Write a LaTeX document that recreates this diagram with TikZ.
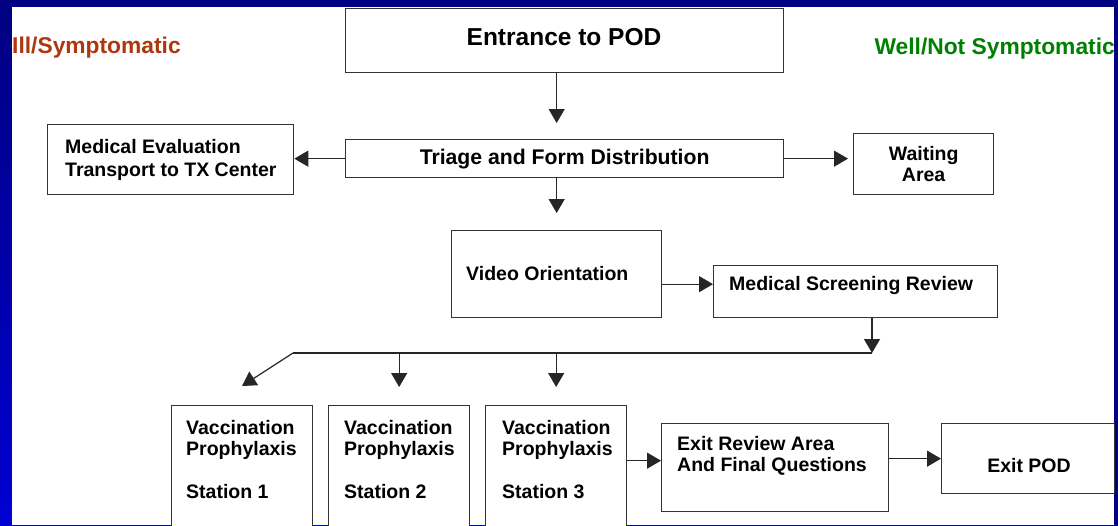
\documentclass[tikz,border=0pt]{standalone}
\usepackage{fontspec}
\setmainfont{Liberation Sans}
\usetikzlibrary{arrows.meta}
\definecolor{navy}{RGB}{0,0,128}
\definecolor{brightblue}{RGB}{0,0,210}
\definecolor{illred}{RGB}{175,55,15}
\definecolor{wellgreen}{RGB}{0,128,0}
\newcommand\headfont{\fontsize{24.5}{28}\selectfont\bfseries}
\newcommand\sidefont{\fontsize{22.8}{26}\selectfont\bfseries}
\newcommand\triagefont{\fontsize{21.2}{25}\selectfont\bfseries}
\newcommand\boxfont{\fontsize{19.5}{23}\selectfont\bfseries}
\newcommand\stationfont{\fontsize{19.5}{21.5}\selectfont\bfseries}
\begin{document}
\begin{tikzpicture}[x=1pt,y=-1pt,
  box/.style={draw=black!80, line width=1.3pt, fill=white, inner sep=0pt, anchor=north west},
  txt/.style={inner sep=0pt, text=black},
  link/.style={draw=black!85, line width=1.2pt},
  arr/.style={link, -{Triangle[length=14pt,width=16pt]}}]
\useasboundingbox (0,0) rectangle (1118,525);
\clip (0,0) rectangle (1118,525);
% slide background and white panel
\shade[top color=navy, bottom color=brightblue] (0,0) rectangle (1118,525);
\fill[navy] (1114,0) rectangle (1118,525);
\fill[white] (12,7) rectangle (1114,525);

% side headings
\node[txt, anchor=base west, font=\sidefont, text=illred] (ill) at (12,53) {Ill/Symptomatic};
\node[txt, anchor=base east, font=\sidefont, text=wellgreen] (well) at (1115,54) {Well/Not Symptomatic};

% boxes
\node[box, minimum width=438pt, minimum height=64pt] (entr) at (345,8) {};
\node[box, minimum width=438pt, minimum height=38pt, font=\triagefont] (triage) at (345,139) {Triage and Form Distribution};
\node[box, minimum width=246pt, minimum height=70pt] (medeval) at (47,124) {};
\node[box, minimum width=140pt, minimum height=61pt, align=center, font=\stationfont] (waiting) at (853,133) {Waiting\\Area};
\node[box, minimum width=210pt, minimum height=87pt] (video) at (451,230) {};
\node[box, minimum width=284pt, minimum height=52pt] (screen) at (713,265) {};
\node[box, minimum width=141pt, minimum height=135pt] (st1) at (171,405) {};
\node[box, minimum width=141pt, minimum height=135pt] (st2) at (328,405) {};
\node[box, minimum width=141pt, minimum height=135pt] (st3) at (485,405) {};
\node[box, minimum width=227pt, minimum height=88pt] (exitrev) at (661,423) {};
\node[box, minimum width=173pt, minimum height=70pt] (exitpod) at (941,423) {};

% box texts
\node[txt, anchor=base, font=\headfont] (t-entr) at (564,45) {Entrance to POD};
\node[txt, anchor=north west, align=left, font=\boxfont] (t-medeval) at (65,139) {Medical Evaluation\\Transport to TX Center};
\node[txt, anchor=base west, font=\boxfont] (t-video) at (466,280) {Video Orientation};
\node[txt, anchor=base west, font=\boxfont] (t-screen) at (729,290) {Medical Screening Review};
\node[txt, anchor=north west, align=left, font=\stationfont] (t-st1) at (186,420) {Vaccination\\Prophylaxis\\[21.5pt]Station 1};
\node[txt, anchor=north west, align=left, font=\stationfont] (t-st2) at (344,420) {Vaccination\\Prophylaxis\\[21.5pt]Station 2};
\node[txt, anchor=north west, align=left, font=\stationfont] (t-st3) at (502,420) {Vaccination\\Prophylaxis\\[21.5pt]Station 3};
\node[txt, anchor=north west, align=left, font=\stationfont] (t-exitrev) at (677,436) {Exit Review Area\\And Final Questions};
\node[txt, anchor=base, font=\boxfont] (t-exitpod) at (1029,472) {Exit POD};

% connectors
\draw[arr, shorten >=16pt] ([xshift=-8pt]entr.south) -- ([xshift=-8pt]triage.north);
\draw[arr, shorten >=17pt] (triage.south -| video.north) -- (video.north);
\draw[arr] (triage.west) -- (triage.west -| medeval.east);
\draw[arr, shorten >=5pt] (triage.east) -- (triage.east -| waiting.west);
\coordinate (sc-in) at ([yshift=-10pt]video.east);
\draw[arr] (sc-in) -- (sc-in -| screen.west);
\coordinate (busR) at (872,353);
\coordinate (busL) at (293,353);
\coordinate (d1) at (242,386);
\draw[arr] (screen.south -| busR) -- (busR);
\draw[link] (busR) -- (busL);
\draw[arr] (busL) -- (d1);
\draw[arr, shorten >=18pt] (busL -| st2.north) -- (st2.north);
\draw[arr, shorten >=18pt] (busL -| st3.north) -- (st3.north);
\coordinate (er-in) at ([yshift=7pt]exitrev.west);
\draw[arr] (er-in -| st3.east) -- (er-in);
\draw[arr] (exitrev.east |- exitpod.west) -- (exitpod.west);
\end{tikzpicture}
\end{document}
